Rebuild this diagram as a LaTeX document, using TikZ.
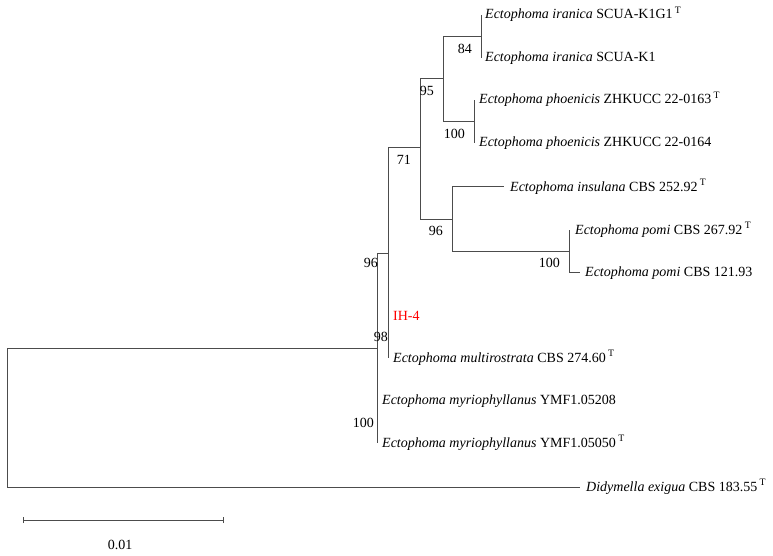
\documentclass[tikz,border=0pt]{standalone}
\usepackage{fontspec}
\setmainfont{Liberation Serif}
\tikzset{
  branch/.style={draw=black!70, line width=1pt},
  taxon/.style={anchor=base west, inner sep=0pt, font=\fontsize{14}{16}\selectfont},
  boot/.style={anchor=east, inner sep=0pt, font=\fontsize{14}{16}\selectfont},
}
\newcommand{\typestrain}{\,\textsuperscript{T}}
\begin{document}
\begin{tikzpicture}[x=1pt,y=-1pt]
\useasboundingbox (0,0) rectangle (773,556);
\coordinate (root) at (7,418);
\coordinate (n1) at (377,348);
\coordinate (n96b) at (388,253);
\coordinate (n98) at (388,337);
\coordinate (n100c) at (377,421.5);
\coordinate (n71) at (420,148);
\coordinate (n95) at (443,79);
\coordinate (n84) at (481,36.5);
\coordinate (n100a) at (474,121.5);
\coordinate (n96a) at (452,219);
\coordinate (n100b) at (569,251);
\coordinate (t1) at (481,15);
\coordinate (t2) at (481,58);
\coordinate (t3) at (474,100);
\coordinate (t4) at (474,143);
\coordinate (t5) at (504,187);
\coordinate (t6) at (569,230);
\coordinate (t7) at (580,272);
\coordinate (t8) at (388,316);
\coordinate (t9) at (388,358);
\coordinate (t10) at (377,400);
\coordinate (t11) at (377,443);
\coordinate (t12) at (580,487);

\draw[branch] (root) |- (n1) (root) |- (t12)
  (n1) |- (n96b) (n1) |- (n100c) (n100c) |- (t10) (n100c) |- (t11)
  (n96b) |- (n71) (n96b) |- (n98) (n98) |- (t8) (n98) |- (t9)
  (n71) |- (n95) (n71) |- (n96a)
  (n95) |- (n84) (n95) |- (n100a)
  (n84) |- (t1) (n84) |- (t2)
  (n100a) |- (t3) (n100a) |- (t4)
  (n96a) |- (t5) (n96a) |- (n100b)
  (n100b) |- (t6) (n100b) |- (t7);

\node[taxon] (l1) at ([shift={(4,4)}]t1) {\textit{Ectophoma iranica} SCUA-K1G1\typestrain};
\node[taxon] (l2) at ([shift={(4,4)}]t2) {\textit{Ectophoma iranica} SCUA-K1};
\node[taxon] (l3) at ([shift={(5,4)}]t3) {\textit{Ectophoma phoenicis} ZHKUCC 22-0163\typestrain};
\node[taxon] (l4) at ([shift={(5,4)}]t4) {\textit{Ectophoma phoenicis} ZHKUCC 22-0164};
\node[taxon] (l5) at ([shift={(6,4)}]t5) {\textit{Ectophoma insulana} CBS 252.92\typestrain};
\node[taxon] (l6) at ([shift={(6,4)}]t6) {\textit{Ectophoma pomi} CBS 267.92\typestrain};
\node[taxon] (l7) at ([shift={(5,4)}]t7) {\textit{Ectophoma pomi} CBS 121.93};
\node[taxon, text=red] (l8) at ([shift={(5,4.5)}]t8) {IH-4};
\node[taxon] (l9) at ([shift={(5,4)}]t9) {\textit{Ectophoma multirostrata} CBS 274.60\typestrain};
\node[taxon] (l10) at ([shift={(5,4)}]t10) {\textit{Ectophoma myriophyllanus} YMF1.05208};
\node[taxon] (l11) at ([shift={(5,4)}]t11) {\textit{Ectophoma myriophyllanus} YMF1.05050\typestrain};
\node[taxon] (l12) at ([shift={(6,4)}]t12) {\textit{Didymella exigua} CBS 183.55\typestrain};

\foreach \n/\v in {n84/84, n95/95, n100a/100, n71/71, n96a/96, n100b/100}
  \node[boot] (b\n) at ([shift={(-9,12)}]\n) {\v};
\node[boot] (bn96b) at ([shift={(-10,10)}]n96b) {96};
\node[boot] (bn98) at ([shift={(0,0)}]n98) {98};
\node[boot] (bn100c) at ([shift={(-3,1.5)}]n100c) {100};

\coordinate (s0) at (23,520);
\coordinate (s1) at (223,520);
\draw[branch] (s0) -- (s1);
\draw[branch] ([yshift=-3pt]s0) -- ([yshift=3pt]s0);
\draw[branch] ([yshift=-3pt]s1) -- ([yshift=3pt]s1);
\node[boot, anchor=center] (scale) at (120,545) {0.01};
\end{tikzpicture}
\end{document}
